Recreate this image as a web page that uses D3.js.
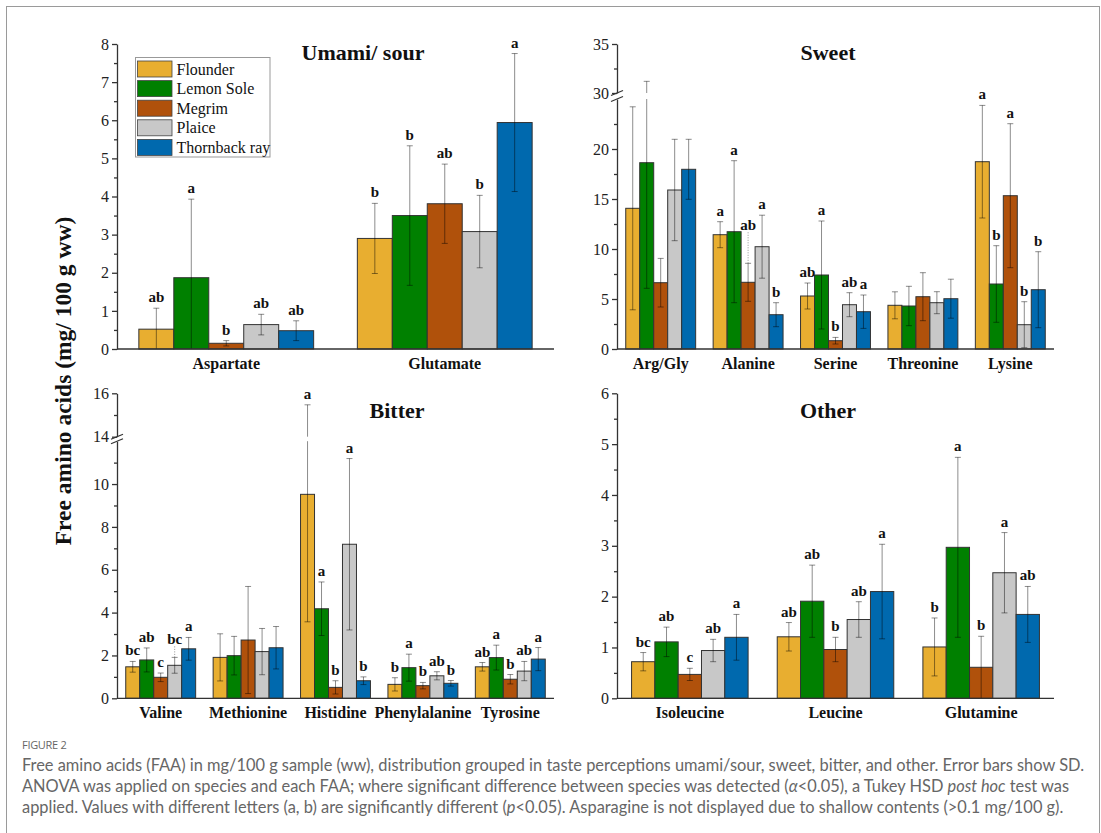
<html>
<head>
<script src="https://d3js.org/d3.v7.min.js"></script>
<style>
  body { margin: 0; background: #fff; }
</style>
</head>
<body>
<svg id="fig" width="1101" height="833"></svg>
<script>
// ---- data ----
const species = ["Flounder", "Lemon Sole", "Megrim", "Plaice", "Thornback ray"];
const colors = ["#E8AE30", "#008000", "#B0510B", "#C8C8C8", "#0069AE"];

// Umami / sour
const umamiCats = ["Aspartate", "Glutamate"];
const umamiMean = [[0.52, 1.87, 0.15, 0.64, 0.48], [2.90, 3.50, 3.81, 3.08, 5.94]];
const umamiSD = [[0.55, 2.06, 0.07, 0.27, 0.26], [0.92, 1.83, 1.04, 0.95, 1.81]];
const umamiLetters = [["ab", "a", "b", "ab", "ab"], ["b", "b", "ab", "b", "a"]];
const umamiMajor = [0, 1, 2, 3, 4, 5, 6, 7, 8];
const umamiMinor = [0.5, 1.5, 2.5, 3.5, 4.5, 5.5, 6.5, 7.5];

// Sweet
const sweetCats = ["Arg/Gly", "Alanine", "Serine", "Threonine", "Lysine"];
const sweetMean = [
  [14.07, 18.63, 6.63, 15.90, 17.97],
  [11.43, 11.73, 6.67, 10.23, 3.43],
  [5.30, 7.40, 0.83, 4.43, 3.73],
  [4.37, 4.30, 5.23, 4.63, 5.03],
  [18.73, 6.50, 15.33, 2.43, 5.93]
];
const sweetSD = [
  [10.15, 12.56, 2.43, 5.07, 3.00],
  [1.30, 7.10, 1.90, 3.15, 1.20],
  [1.30, 5.40, 0.33, 1.20, 1.67],
  [1.35, 1.97, 2.40, 1.10, 1.95],
  [5.63, 3.83, 7.20, 2.30, 3.80]
];
const sweetLetters = [
  ["", "", "", "", ""],
  ["a", "a", "ab", "a", "b"],
  ["ab", "a", "b", "ab", "a"],
  ["", "", "", "", ""],
  ["a", "b", "a", "b", "b"]
];
const sweetMajor = [0, 5, 10, 15, 20, 30, 35];
const sweetMinor = [2.5, 7.5, 12.5, 17.5, 22.5, 32.5];

// Bitter
const bitterCats = ["Valine", "Methionine", "Histidine", "Phenylalanine", "Tyrosine"];
const bitterMean = [
  [1.47, 1.79, 0.98, 1.54, 2.31],
  [1.91, 1.99, 2.72, 2.18, 2.36],
  [9.52, 4.18, 0.51, 7.19, 0.82],
  [0.65, 1.43, 0.59, 1.05, 0.70],
  [1.47, 1.90, 0.89, 1.27, 1.83]
];
const bitterSD = [
  [0.25, 0.56, 0.20, 0.37, 0.53],
  [1.10, 0.90, 2.50, 1.08, 0.99],
  [5.95, 1.25, 0.31, 4.00, 0.18],
  [0.31, 0.63, 0.15, 0.19, 0.13],
  [0.20, 0.58, 0.22, 0.45, 0.54]
];
const bitterLetters = [
  ["bc", "ab", "c", "bc", "a"],
  ["", "", "", "", ""],
  ["a", "a", "b", "a", "b"],
  ["b", "a", "b", "ab", "b"],
  ["ab", "a", "b", "ab", "a"]
];
const bitterMajor = [0, 2, 4, 6, 8, 10, 14, 16];
const bitterMinor = [1, 3, 5, 7, 9, 11, 15];

// Other
const otherCats = ["Isoleucine", "Leucine", "Glutamine"];
const otherMean = [
  [0.72, 1.11, 0.47, 0.94, 1.20],
  [1.21, 1.91, 0.96, 1.55, 2.10],
  [1.01, 2.97, 0.61, 2.47, 1.65]
];
const otherSD = [
  [0.18, 0.29, 0.12, 0.22, 0.45],
  [0.28, 0.71, 0.24, 0.35, 0.93],
  [0.57, 1.77, 0.61, 0.79, 0.55]
];
const otherLetters = [
  ["bc", "ab", "c", "ab", "a"],
  ["ab", "ab", "b", "ab", "a"],
  ["b", "a", "b", "a", "ab"]
];
const otherMajor = [0, 1, 2, 3, 4, 5, 6];
const otherMinor = [0.5, 1.5, 2.5, 3.5, 4.5, 5.5];

const captionLines = [
  [["Free amino acids (FAA) in mg/100 g sample (ww), distribution grouped in taste perceptions umami/sour, sweet, bitter, and other. Error bars show SD.", false]],
  [["ANOVA was applied on species and each FAA; where significant difference between species was detected (", false], ["α", true], ["<0.05), a Tukey HSD ", false], ["post hoc", true], [" test was", false]],
  [["applied. Values with different letters (a, b) are significantly different (", false], ["p", true], ["<0.05). Asparagine is not displayed due to shallow contents (>0.1 mg/100 g).", false]]
];

// ---- layout ----
const serif = "'Liberation Serif', 'Times New Roman', serif";
const panels = [
  { title: "Umami/ sour", cats: umamiCats, mean: umamiMean, sd: umamiSD, letters: umamiLetters,
    x: [117, 554], segs: [{ d: [0, 8], r: [349, 44] }], major: umamiMajor, minor: umamiMinor,
    tx: 363, ty: 60, legend: true },
  { title: "Sweet", cats: sweetCats, mean: sweetMean, sd: sweetSD, letters: sweetLetters,
    x: [617, 1054], segs: [{ d: [0, 25], r: [349, 99] }, { d: [30, 35], r: [93, 44] }],
    major: sweetMajor, minor: sweetMinor, tx: 828, ty: 60 },
  { title: "Bitter", cats: bitterCats, mean: bitterMean, sd: bitterSD, letters: bitterLetters,
    x: [117, 554], segs: [{ d: [0, 12], r: [698.3, 441.2] }, { d: [14, 16], r: [436.7, 393.3] }],
    major: bitterMajor, minor: bitterMinor, tx: 397, ty: 418 },
  { title: "Other", cats: otherCats, mean: otherMean, sd: otherSD, letters: otherLetters,
    x: [617, 1054], segs: [{ d: [0, 6], r: [698.3, 393.3] }], major: otherMajor, minor: otherMinor,
    tx: 828, ty: 418 }
];
// labels moved up by hand in the original (with a dotted leader)
const labelLift = { "Sweet|Alanine|Megrim": 27, "Bitter|Valine|Plaice": 7 };

const svg = d3.select("#fig");

// outer frame
svg.append("rect")
  .attr("x", 6.5).attr("y", 6.5).attr("width", 1093).attr("height", 900)
  .style("fill", "none").style("stroke", "#9a9a9a").style("stroke-width", 1);

panels.forEach(p => {
  const g = svg.append("g");
  const x = d3.scaleBand().domain(p.cats).range(p.x).paddingInner(0.2).paddingOuter(0.1);
  const xs = d3.scaleBand().domain(species).range([0, x.bandwidth()]);
  const ys = p.segs.map(s => d3.scaleLinear().domain(s.d).range(s.r));
  const y = v => {
    for (let i = ys.length - 1; i >= 0; i--) if (v >= p.segs[i].d[0]) return ys[i](v);
    return ys[0](v);
  };
  const y0 = ys[0](0);

  const rows = p.cats.flatMap((c, i) => species.map((s, j) => ({
    c, s, j, m: p.mean[i][j], sd: p.sd[i][j], L: p.letters[i][j]
  })));
  const cx = d => x(d.c) + xs(d.s) + xs.bandwidth() / 2;

  g.selectAll("rect.bar")
    .data(rows)
    .join("rect")
    .attr("class", "bar")
    .attr("x", d => x(d.c) + xs(d.s))
    .attr("y", d => y(d.m))
    .attr("width", xs.bandwidth())
    .attr("height", d => y0 - y(d.m))
    .style("fill", d => colors[d.j])
    .style("stroke", "#333")
    .style("stroke-width", 1);

  // error bars
  const eb = g.append("g").style("stroke", "#000").style("stroke-opacity", 0.45).style("stroke-width", 1);
  rows.forEach(d => {
    const lo = Math.max(0, d.m - d.sd), hi = d.m + d.sd;
    const xx = cx(d);
    if (p.segs.length > 1 && hi > p.segs[1].d[0]) {
      eb.append("line").attr("x1", xx).attr("x2", xx).attr("y1", y(lo)).attr("y2", p.segs[0].r[1]);
      eb.append("line").attr("x1", xx).attr("x2", xx).attr("y1", p.segs[1].r[0]).attr("y2", y(hi));
    } else {
      eb.append("line").attr("x1", xx).attr("x2", xx).attr("y1", y(lo)).attr("y2", y(hi));
    }
    eb.append("line").attr("x1", xx - 3).attr("x2", xx + 3).attr("y1", y(hi)).attr("y2", y(hi));
    if (lo > 0) eb.append("line").attr("x1", xx - 3).attr("x2", xx + 3).attr("y1", y(lo)).attr("y2", y(lo));
  });

  // significance letters
  rows.filter(d => d.L).forEach(d => {
    const top = y(d.m + d.sd);
    const lift = labelLift[p.title + "|" + d.c + "|" + d.s] || 0;
    g.append("text")
      .attr("x", cx(d)).attr("y", top - 6 - lift)
      .attr("text-anchor", "middle")
      .style("font-family", serif).style("font-weight", "bold").style("font-size", "15px")
      .style("fill", "#111")
      .text(d.L);
    if (lift) {
      g.append("line")
        .attr("x1", cx(d)).attr("x2", cx(d)).attr("y1", top - 4 - lift).attr("y2", top)
        .style("stroke", "#777").style("stroke-width", 0.8).style("stroke-dasharray", "1,1.5");
    }
  });

  // y axis, one piece per segment
  ys.forEach((sc, i) => {
    const [d0, d1] = p.segs[i].d;
    const ax = g.append("g").attr("transform", `translate(${p.x[0]},0)`)
      .call(d3.axisLeft(sc).tickValues(p.major.filter(v => v >= d0 && v <= d1))
        .tickFormat(d3.format("d")).tickSize(5).tickSizeOuter(0).tickPadding(3));
    ax.attr("font-family", null);
    ax.selectAll("text").style("font-family", serif).style("font-size", "16px").style("fill", "#222");
    ax.selectAll("line, path").style("stroke", "#333").style("stroke-width", 1.3);
    const mn = g.append("g").attr("transform", `translate(${p.x[0]},0)`)
      .call(d3.axisLeft(sc).tickValues(p.minor.filter(v => v >= d0 && v <= d1))
        .tickSize(3).tickFormat(""));
    mn.select(".domain").remove();
    mn.selectAll("line").style("stroke", "#333").style("stroke-width", 1.3);
  });
  // break marks
  if (p.segs.length > 1) {
    [p.segs[0].r[1], p.segs[1].r[0]].forEach(by => {
      g.append("line")
        .attr("x1", p.x[0] - 6).attr("x2", p.x[0] + 6)
        .attr("y1", by + 2.5).attr("y2", by - 2.5)
        .style("stroke", "#333").style("stroke-width", 1.2);
    });
  }

  // x axis line
  g.append("line")
    .attr("x1", p.x[0]).attr("x2", p.x[1]).attr("y1", y0).attr("y2", y0)
    .style("stroke", "#333").style("stroke-width", 1.3);

  g.selectAll("text.cat")
    .data(p.cats)
    .join("text")
    .attr("class", "cat")
    .attr("x", d => x(d) + x.bandwidth() / 2)
    .attr("y", y0 + 20)
    .attr("text-anchor", "middle")
    .style("font-family", serif).style("font-weight", "bold").style("font-size", "16px")
    .style("fill", "#111")
    .text(d => d);

  g.append("text")
    .attr("x", p.tx).attr("y", p.ty)
    .attr("text-anchor", "middle")
    .style("font-family", serif).style("font-weight", "bold").style("font-size", "22px")
    .style("fill", "#111")
    .text(p.title);

  if (p.legend) {
    const lg = g.append("g").attr("transform", "translate(135.5,57.5)");
    lg.append("rect").attr("width", 134.5).attr("height", 99.5)
      .style("fill", "#fff").style("stroke", "#999").style("stroke-width", 1);
    species.forEach((s, j) => {
      lg.append("rect")
        .attr("x", 2).attr("y", 3.5 + j * 19.6).attr("width", 34.5).attr("height", 16)
        .style("fill", colors[j]).style("stroke", "#444").style("stroke-width", 0.8);
      lg.append("text")
        .attr("x", 41).attr("y", 17 + j * 19.6)
        .style("font-family", serif).style("font-size", "16px").style("fill", "#111")
        .text(s);
    });
  }
});

// y title
svg.append("text")
  .attr("transform", "translate(71,381) rotate(-90)")
  .attr("text-anchor", "middle")
  .style("font-family", serif).style("font-weight", "bold").style("font-size", "23.5px")
  .style("fill", "#111")
  .text("Free amino acids (mg/ 100 g ww)");

// caption
svg.append("text")
  .attr("x", 22).attr("y", 749)
  .style("font-family", "'Open Sans', sans-serif").style("font-size", "11px")
  .style("letter-spacing", "-0.3px").style("fill", "#666")
  .text("FIGURE 2");

const cap = svg.append("g").style("font-family", "Lato, 'Open Sans', sans-serif").style("fill", "#666");
const capTexts = captionLines.map((parts, i) => {
  const t = cap.append("text").attr("x", 22).attr("y", 771 + i * 21).style("font-size", "14px");
  parts.forEach(([s, it]) => t.append("tspan").style("font-style", it ? "italic" : "normal").text(s));
  return t;
});
const len0 = capTexts[0].node().getComputedTextLength();
const fs = 14 * 1063 / len0;
capTexts.forEach(t => t.style("font-size", fs + "px"));
</script>
</body>
</html>
